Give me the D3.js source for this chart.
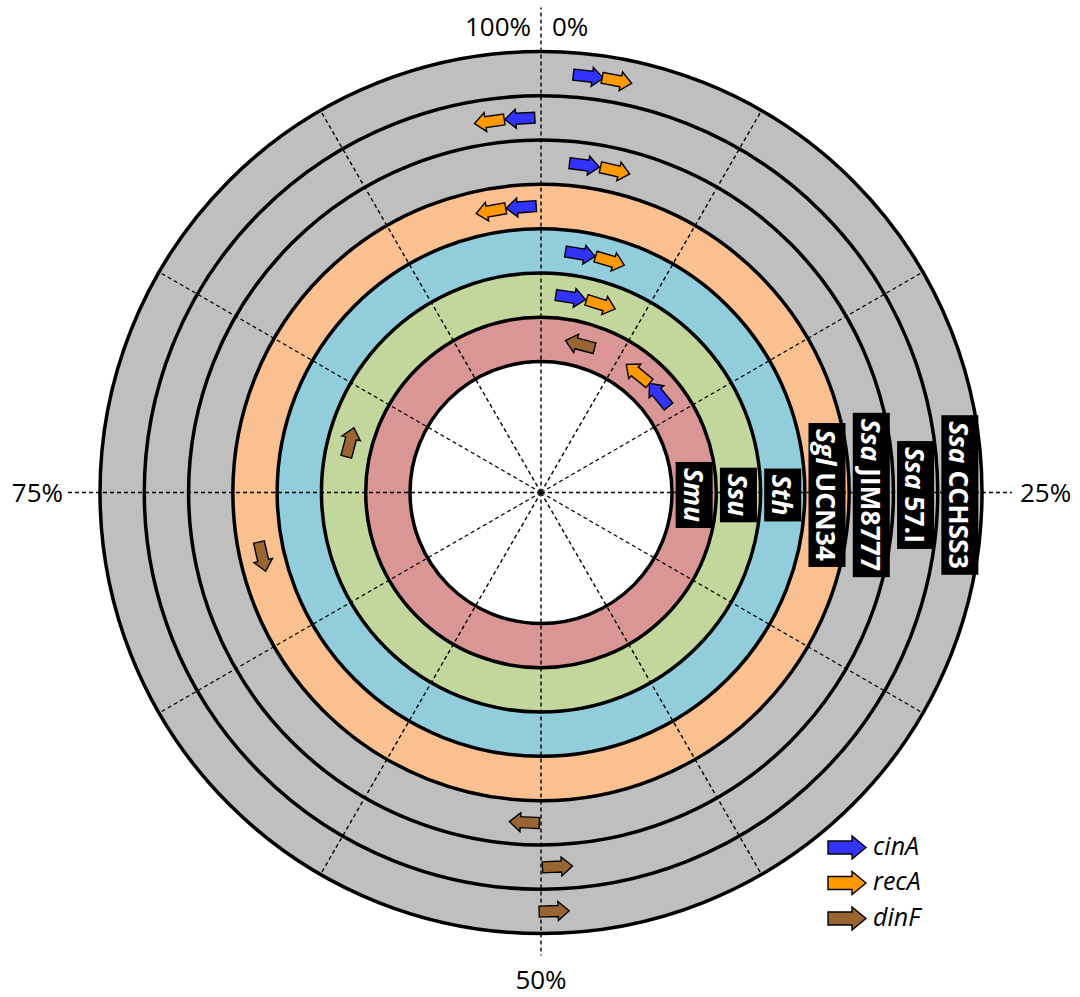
<!DOCTYPE html>
<html>
<head>
<meta charset="utf-8">
<script src="https://cdn.jsdelivr.net/npm/d3@7"></script>
<style>
  body { margin: 0; background: #fff; }
  text { font-family: "Open Sans", sans-serif; }
</style>
</head>
<body>
<svg width="1080" height="997"></svg>
<script>
const width = 1080;
const height = 997;
const cx = 541;
const cy = 492.5;

// rings, inner to outer
const species = ["Smu", "Ssu", "Sth", "Sgl", "Ssa", "Ssa", "Ssa"];
const strains = ["", "", "", "UCN34", "JIM8777", "57.I", "CCHSS3"];
const ringColors = ["#d99694", "#c3d69b", "#92cddc", "#fac090", "#bfbfbf", "#bfbfbf", "#bfbfbf"];

// gene arrows: ring index, position (% of genome), strand (1 = clockwise)
const cinARing = [0, 1, 2, 3, 4, 5, 6];
const cinAPos = [14.0, 2.4, 2.6, 98.9, 2.1, 99.1, 1.8];
const cinAStrand = [-1, 1, 1, -1, 1, -1, 1];

const recARing = [0, 1, 2, 3, 4, 5, 6];
const recAPos = [10.9, 4.9, 4.6, 97.2, 3.6, 97.8, 2.9];
const recAStrand = [-1, 1, 1, -1, 1, -1, 1];

const dinFRing = [0, 1, 3, 4, 5, 6];
const dinFPos = [4.1, 79.1, 71.4, 50.8, 49.3, 49.5];
const dinFStrand = [-1, 1, -1, 1, -1, -1];

const genes = ["cinA", "recA", "dinF"];
const geneColors = ["#3333ff", "#ff9900", "#996633"];

const pctTicks = ["0%", "25%", "50%", "75%", "100%"];

const svg = d3.select("svg");

const angle = d3.scaleLinear().domain([0, 100]).range([0, 360]);
const radius = d3.scaleLinear().domain([0, 7]).range([131, 441]);

const rad = deg => deg * Math.PI / 180;
const polar = (r, deg) => [cx + r * Math.sin(rad(deg)), cy - r * Math.cos(rad(deg))];

// ring fills, outer first
const ringIdx = d3.range(7).reverse();
svg.selectAll("circle.ring")
  .data(ringIdx)
  .enter()
  .append("circle")
  .attr("class", "ring")
  .attr("cx", cx)
  .attr("cy", cy)
  .attr("r", d => radius(d + 1))
  .attr("fill", d => ringColors[d])
  .attr("stroke", "#000")
  .attr("stroke-width", 3.5);

svg.append("circle")
  .attr("cx", cx)
  .attr("cy", cy)
  .attr("r", radius(0))
  .attr("fill", "#fff")
  .attr("stroke", "#000")
  .attr("stroke-width", 3.5);

// dashed radial grid every 30 deg; quarters run past the outer ring
const spokes = d3.range(0, 360, 30);
const ext = { 0: 485, 90: 471, 180: 463, 270: 473 };
svg.selectAll("line.spoke")
  .data(spokes)
  .enter()
  .append("line")
  .attr("x1", cx)
  .attr("y1", cy)
  .attr("x2", d => polar(ext[d] || radius(7), d)[0])
  .attr("y2", d => polar(ext[d] || radius(7), d)[1])
  .attr("stroke", "#000")
  .attr("stroke-width", 1.4)
  .attr("stroke-dasharray", "4,3");

// arrow glyph pointing +x, centred on origin
function arrowPath(len, headH, shaftH, headL) {
  const x0 = -len / 2, x1 = len / 2 - headL, x2 = len / 2;
  return `M${x0},${-shaftH / 2}L${x1},${-shaftH / 2}L${x1},${-headH / 2}L${x2},0` +
    `L${x1},${headH / 2}L${x1},${shaftH / 2}L${x0},${shaftH / 2}Z`;
}

const arrows = [];
[[cinARing, cinAPos, cinAStrand], [recARing, recAPos, recAStrand], [dinFRing, dinFPos, dinFStrand]]
  .forEach(([rings, pos, strand], g) => {
    rings.forEach((ri, i) => arrows.push({ gene: g, ring: ri, pos: pos[i], strand: strand[i] }));
  });

svg.selectAll("path.gene")
  .data(arrows)
  .enter()
  .append("path")
  .attr("class", "gene")
  .attr("d", arrowPath(30, 19, 11, 11))
  .attr("transform", d => {
    const a = angle(d.pos);
    const p = polar((radius(d.ring) + radius(d.ring + 1)) / 2, a);
    return `translate(${p[0]},${p[1]}) rotate(${d.strand > 0 ? a : a + 180})`;
  })
  .attr("fill", d => geneColors[d.gene])
  .attr("stroke", "#000")
  .attr("stroke-width", 1.4)
  .attr("stroke-linejoin", "miter");

// ring labels: black boxes with rotated white text
const labels = svg.selectAll("g.label")
  .data(d3.range(7))
  .enter()
  .append("g")
  .attr("class", "label")
  .attr("transform", d => `translate(${cx + (radius(d) + radius(d + 1)) / 2},495) rotate(90)`);

const rects = labels.append("rect").attr("fill", "#000");

const texts = labels.append("text")
  .attr("text-anchor", "middle")
  .attr("dominant-baseline", "central")
  .attr("dy", "0.02em")
  .attr("fill", "#fff")
  .attr("font-size", 26.5)
  .attr("font-weight", "bold");
texts.append("tspan").attr("font-style", "italic").text(d => species[d]);
texts.append("tspan").text(d => strains[d] ? " " + strains[d] : "");

texts.each(function (d, i) {
  const w = this.getComputedTextLength();
  rects.filter((e, j) => j === i)
    .attr("x", -w / 2 - 6)
    .attr("y", -18.5)
    .attr("width", w + 12)
    .attr("height", 37);
});

// percentage labels
const pctPos = [
  { x: 552, y: 36, anchor: "start" },
  { x: 1020, y: 502, anchor: "start" },
  { x: 541, y: 989, anchor: "middle" },
  { x: 63, y: 502, anchor: "end" },
  { x: 531, y: 36, anchor: "end" },
];
svg.selectAll("text.pct")
  .data(pctTicks)
  .enter()
  .append("text")
  .attr("class", "pct")
  .attr("x", (d, i) => pctPos[i].x)
  .attr("y", (d, i) => pctPos[i].y)
  .attr("text-anchor", (d, i) => pctPos[i].anchor)
  .attr("font-size", 26)
  .attr("fill", "#000")
  .text(d => d);

// legend
const legend = svg.selectAll("g.legend")
  .data(genes)
  .enter()
  .append("g")
  .attr("class", "legend")
  .attr("transform", (d, i) => `translate(847,${847.5 + i * 35.5})`);

legend.append("path")
  .attr("d", arrowPath(38, 23, 13, 14))
  .attr("fill", (d, i) => geneColors[i])
  .attr("stroke", "#000")
  .attr("stroke-width", 1.4);

legend.append("text")
  .attr("x", 26)
  .attr("y", 7)
  .attr("font-size", 25)
  .attr("font-style", "italic")
  .attr("fill", "#000")
  .text(d => d);
</script>
</body>
</html>
